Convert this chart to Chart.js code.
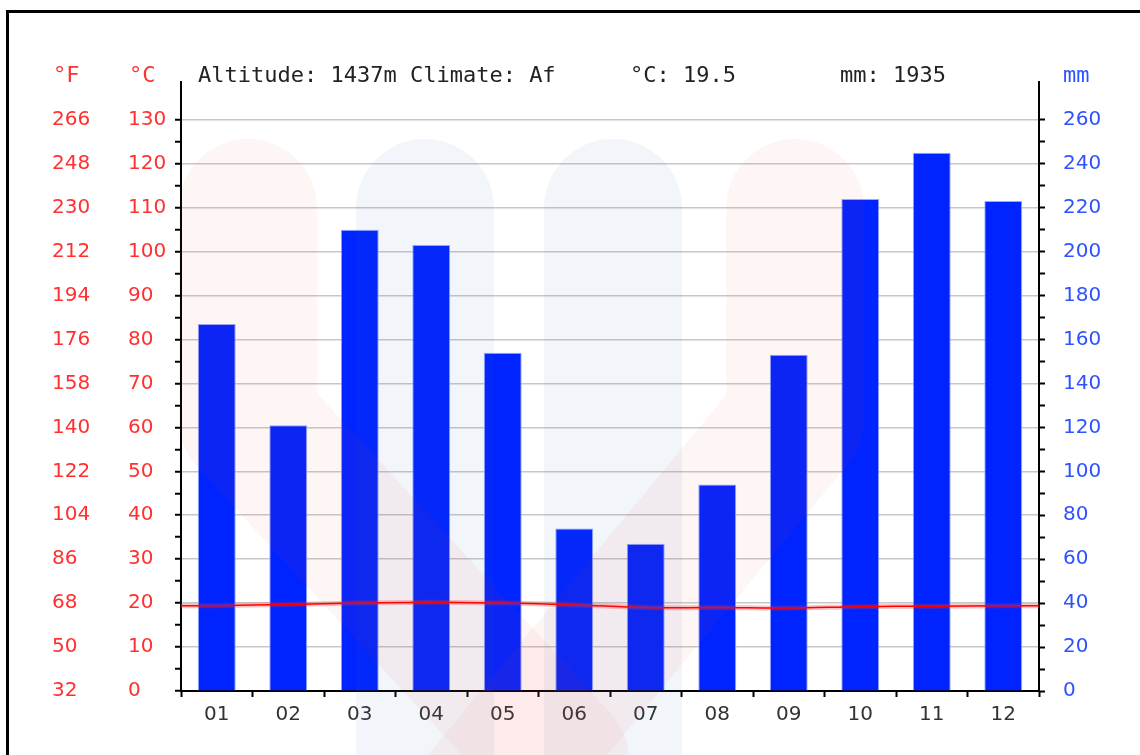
<!DOCTYPE html>
<html>
<head>
<meta charset="utf-8">
<script src="https://cdn.jsdelivr.net/npm/chart.js@4/dist/chart.umd.min.js"></script>
<style>
html, body { margin: 0; padding: 0; background: #fff; }
#wrap { position: absolute; left: 0; top: 0; width: 1140px; height: 755px; overflow: hidden; }
#frame { position: absolute; left: 6px; top: 10px; width: 1200px; height: 800px; border: 3px solid #000; }
#climate { position: absolute; left: 0; top: 0; }
</style>
</head>
<body>
<div id="wrap">
  <div id="frame"></div>
  <canvas id="climate" width="1140" height="755"></canvas>
</div>
<script>
// monthly values
var months = ['01', '02', '03', '04', '05', '06', '07', '08', '09', '10', '11', '12'];
var precipitation = [167, 121, 210, 203, 154, 74, 67, 94, 153, 224, 245, 223];
var temperature = [19.4, 19.7, 20.0, 20.2, 20.0, 19.6, 19.0, 19.0, 18.9, 19.2, 19.3, 19.4];

var altitude = 1437;
var climateClass = 'Af';

// axis ranges (ticks stop at 130 °C / 260 mm, axis line runs a bit higher)
var tempLastTick = 130;
var tempAxisTop = 138.6;
var rainLastTick = 260;
var rainAxisTop = 277.2;

var totalRain = precipitation.reduce(function (a, b) { return a + b; }, 0);
var meanTemp = temperature.reduce(function (a, b) { return a + b; }, 0) / temperature.length;

var tickFont = { family: 'DejaVu Sans', size: 20 };
var red = '#ff3030';
var blue = '#2f52ff';

// continue the temperature line to the plot edges
var edgeLines = {
    id: 'edgeLines',
    afterDatasetsDraw: function (chart) {
        var area = chart.chartArea, c = chart.ctx;
        chart.data.datasets.forEach(function (ds, i) {
            if (ds.type !== 'line') return;
            var pts = chart.getDatasetMeta(i).data;
            var first = pts[0], last = pts[pts.length - 1];
            c.save();
            c.strokeStyle = ds.borderColor;
            c.lineWidth = ds.borderWidth;
            c.beginPath();
            c.moveTo(area.left, first.y);
            c.lineTo(first.x, first.y);
            c.moveTo(last.x, last.y);
            c.lineTo(area.right, last.y);
            c.stroke();
            c.restore();
        });
    }
};

// faint logo in the background
var watermark = {
    id: 'watermark',
    afterDatasetsDraw: function (chart) {
        var c = chart.ctx;
        function band(color, pts) {
            c.strokeStyle = color;
            c.beginPath();
            c.moveTo(pts[0][0], pts[0][1]);
            for (var i = 1; i < pts.length; i++) c.lineTo(pts[i][0], pts[i][1]);
            c.stroke();
        }
        c.save();
        c.lineCap = 'round';
        c.lineJoin = 'round';
        c.lineWidth = 138;
        band('rgba(60,110,170,0.065)', [[425, 208], [425, 820]]);
        band('rgba(60,110,170,0.065)', [[613, 208], [613, 820]]);
        band('rgba(240,60,60,0.05)', [[248, 208], [248, 420], [560, 760]]);
        band('rgba(240,60,60,0.05)', [[795, 208], [795, 420], [480, 800]]);
        c.restore();
    }
};

var header = {
    id: 'header',
    afterDraw: function (chart) {
        var c = chart.ctx, s = chart.scales;
        var base = 82;
        c.save();
        c.font = '22px "DejaVu Sans Mono"';
        c.textBaseline = 'alphabetic';
        c.textAlign = 'left';
        c.fillStyle = red;
        c.fillText('°F', s.yF.left + 1, base);
        c.fillText('°C', s.y.left + 1, base);
        c.fillStyle = blue;
        c.fillText('mm', s.yR.left + 24, base);
        c.fillStyle = '#222';
        c.fillText('Altitude: ' + altitude + 'm Climate: ' + climateClass, 198, base);
        c.fillText('°C: ' + meanTemp.toFixed(1), 630, base);
        c.fillText('mm: ' + totalRain, 840, base);
        c.restore();
    }
};

var ctx = document.getElementById('climate');
var chart = new Chart(ctx, {
    type: 'bar',
    data: {
        labels: months,
        datasets: [{
            type: 'bar',
            label: 'mm',
            data: precipitation,
            yAxisID: 'yR',
            backgroundColor: '#0024ff',
            borderColor: 'rgba(140,160,255,0.9)',
            borderWidth: 1,
            barPercentage: 0.53,
            categoryPercentage: 1,
            order: 3
        }, {
            type: 'line',
            label: '°C glow',
            data: temperature,
            yAxisID: 'y',
            borderColor: 'rgba(255,40,40,0.28)',
            borderWidth: 5,
            tension: 0.4,
            pointRadius: 0,
            order: 2
        }, {
            type: 'line',
            label: '°C',
            data: temperature,
            yAxisID: 'y',
            borderColor: '#ff0000',
            borderWidth: 1.5,
            tension: 0.4,
            pointRadius: 0,
            order: 1
        }]
    },
    options: {
        responsive: false,
        animation: false,
        layout: { padding: { left: 52, top: 82, right: 0, bottom: 0 } },
        plugins: {
            legend: { display: false },
            tooltip: { enabled: false },
            title: { display: false }
        },
        scales: {
            x: {
                offset: true,
                grid: { offset: true, drawOnChartArea: false, tickLength: 6, tickWidth: 2, tickColor: '#000' },
                border: { color: '#000', width: 2 },
                ticks: { color: '#333', font: tickFont, padding: 6 },
                afterFit: function (s) { s.height = 64; }
            },
            yF: {
                position: 'left',
                weight: 1,
                min: 0,
                max: tempAxisTop,
                grid: { display: false },
                border: { display: false },
                ticks: {
                    stepSize: 10,
                    autoSkip: false,
                    crossAlign: 'far',
                    color: red,
                    font: tickFont,
                    callback: function (v) { return Math.round(v * 9 / 5 + 32); }
                },
                afterBuildTicks: function (s) { s.ticks = s.ticks.filter(function (t) { return t.value <= tempLastTick; }); },
                afterFit: function (s) { s.width = 76; }
            },
            y: {
                position: 'left',
                weight: 0,
                min: 0,
                max: tempAxisTop,
                grid: {
                    color: function (c) {
                        return (c.tick && c.tick.value > 0 && c.tick.value % 10 === 0) ? 'rgba(0,0,0,0.22)' : 'rgba(0,0,0,0)';
                    },
                    lineWidth: 1.5,
                    tickColor: '#000',
                    tickLength: 6,
                    tickWidth: 2
                },
                border: { color: '#000', width: 2 },
                ticks: {
                    stepSize: 5,
                    autoSkip: false,
                    crossAlign: 'far',
                    color: red,
                    font: tickFont,
                    callback: function (v) { return v % 10 === 0 ? v : ''; }
                },
                afterBuildTicks: function (s) { s.ticks = s.ticks.filter(function (t) { return t.value <= tempLastTick; }); },
                afterFit: function (s) { s.width = 53; }
            },
            yR: {
                position: 'right',
                min: 0,
                max: rainAxisTop,
                grid: { drawOnChartArea: false, tickColor: '#000', tickLength: 6, tickWidth: 2 },
                border: { color: '#000', width: 2 },
                ticks: {
                    stepSize: 10,
                    autoSkip: false,
                    padding: 18,
                    color: blue,
                    font: tickFont,
                    callback: function (v) { return v % 20 === 0 ? v : ''; }
                },
                afterBuildTicks: function (s) { s.ticks = s.ticks.filter(function (t) { return t.value <= rainLastTick; }); },
                afterFit: function (s) { s.width = 101; }
            }
        }
    },
    plugins: [edgeLines, watermark, header]
});
</script>
</body>
</html>
